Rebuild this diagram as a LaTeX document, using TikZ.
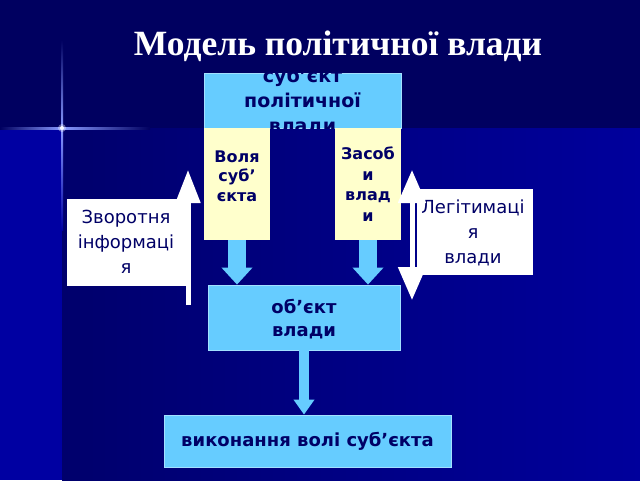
\documentclass[tikz,border=0pt]{standalone}
\usepackage{fontspec}
\setmainfont{Liberation Serif}
\newfontfamily\boxfont{DejaVu Sans}
\usetikzlibrary{arrows.meta}
\definecolor{bgtop}{HTML}{000060}
\definecolor{bgleft}{HTML}{0000A2}
\definecolor{bgmid}{HTML}{00006C}
\definecolor{bgright}{HTML}{00009C}
\definecolor{lblue}{HTML}{66CCFF}
\definecolor{lyellow}{HTML}{FFFFCC}
\definecolor{navy}{HTML}{000066}
\definecolor{starblue}{HTML}{8899FF}
\tikzset{
  bluebox/.style={fill=lblue, draw=lblue!60!white, line width=0.8pt, inner sep=0pt},
  yelbox/.style={fill=lyellow, inner sep=0pt},
  whitebox/.style={fill=white, inner sep=0pt},
  boldtext/.style={text=navy, align=center, font=\boxfont\bfseries\fontsize{16}{19.5}\selectfont},
  bigbold/.style={text=navy, align=center, font=\boxfont\bfseries\fontsize{18}{23}\selectfont},
  regtext/.style={text=navy, align=center, font=\boxfont\fontsize{18}{25}\selectfont},
  barrow/.style={draw=lblue, line width=18pt, -{Triangle[length=17pt,width=30pt]}},
  narrow/.style={draw=lblue, line width=10pt, -{Triangle[length=15pt,width=20pt]}},
  warrow/.style={draw=white, line width=5pt},
}
\begin{document}
\begin{tikzpicture}[x=1pt,y=-1pt]
\useasboundingbox (0,0) rectangle (640,480);
% background
\fill[bgtop] (0,0) rectangle (640,480);
\fill[bgleft] (0,128) rectangle (62,480);
\shade[left color=bgmid, right color=bgright] (62,128) rectangle (640,480);
% star flare
\shade[top color=bgtop, bottom color=starblue] (61,40) rectangle (63,128);
\shade[top color=starblue, bottom color=bgleft] (61,128) rectangle (63,230);
\shade[left color=bgtop, right color=starblue] (0,127) rectangle (62,129.5);
\shade[left color=starblue, right color=bgtop] (62,127) rectangle (150,129.5);
\fill[white, opacity=0.9] (62,128) circle (2pt);
\fill[white, opacity=0.35] (62,128) circle (4pt);
% title
\node[text=white, font=\bfseries\fontsize{35.5}{40}\selectfont] (title) at (338,46) {Модель політичної влади};
% subject box
\node[bluebox, minimum width=197pt, minimum height=55pt] (subj) at (302.5,100.5) {};
\begin{scope}
\clip (subj.south west) rectangle (subj.north east);
\node[bigbold, font=\boxfont\bfseries\fontsize{19}{25}\selectfont] (subjtext) at (302.5,101.5) {суб’єкт\\політичної\\влади};
\end{scope}
% yellow boxes
\node[yelbox, minimum width=66pt, minimum height=112pt] (vola) at (237,184) {};
\node[boldtext] (volatext) at (237,176) {Воля\\суб’\\єкта};
\node[yelbox, minimum width=66pt, minimum height=112pt] (zasob) at (368,184) {};
\node[boldtext, font=\boxfont\bfseries\fontsize{16}{20.5}\selectfont] (zasobtext) at (368,184) {Засоб\\и\\влад\\и};
% object box
\node[bluebox, minimum width=192pt, minimum height=65pt] (obj) at (304,317.5) {};
\node[bigbold] (objtext) at (304,319) {об’єкт\\влади};
% result box
\node[bluebox, minimum width=287pt, minimum height=52pt] (res) at (307.5,441) {};
\node[bigbold] (restext) at (307.5,441) {виконання волі суб’єкта};
% block arrows
\draw[barrow] (vola.south) -- (vola.south |- obj.north);
\draw[barrow] (zasob.south) -- (zasob.south |- obj.north);
\draw[narrow] (obj.south) -- (obj.south |- res.north);
% feedback box
\node[whitebox, minimum width=121pt, minimum height=87pt] (fb) at (127.5,242.5) {};
\node[regtext] (fbtext) at (126,242) {Зворотня\\інформаці\\я};
\coordinate (fbbot) at (188,305);
\coordinate (fbtop) at (188,170);
\draw[warrow, -{Triangle[length=33pt,width=24pt]}] (fbbot) -- (fbtop);
% legitimacy box
\node[whitebox, minimum width=116pt, minimum height=86pt] (leg) at (475,232) {};
\node[regtext] (legtext) at (473,233) {Легітимаці\\я\\влади};
\coordinate (lgbot) at (412,300);
\coordinate (lgtop) at (412,170);
\draw[warrow, {Triangle[length=33pt,width=27pt]}-{Triangle[length=33pt,width=27pt]}] (lgbot) -- (lgtop);
\end{tikzpicture}
\end{document}
